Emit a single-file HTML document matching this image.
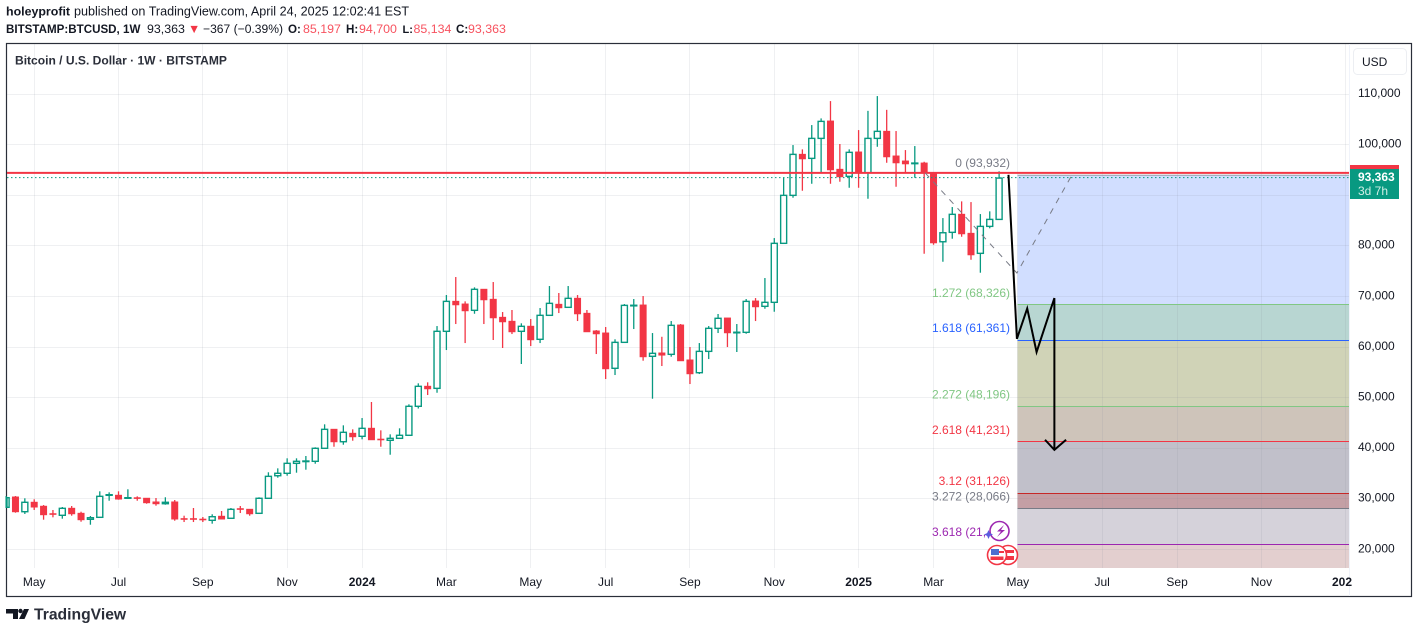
<!DOCTYPE html>
<html lang="en">
<head>
<meta charset="utf-8">
<title>BTCUSD 1W chart</title>
<style>
html,body{margin:0;padding:0;background:#fff;width:1418px;height:633px;overflow:hidden}
body{font-family:"Liberation Sans",sans-serif;position:relative}
svg{position:absolute;left:0;top:0;display:block}
svg text{font-family:"Liberation Sans",sans-serif}
</style>
</head>
<body>
<svg id="chart" width="1418" height="633" viewBox="0 0 1418 633">
  <text x="6" y="15.5" font-size="12.4" fill="#131722"><tspan font-weight="bold">holeyprofit</tspan><tspan x="74" font-size="12.6">published on TradingView.com, April 24, 2025 12:02:41 EST</tspan></text>
  <text x="6" y="33" font-size="12.4" fill="#131722"><tspan font-weight="bold" font-size="11.6">BITSTAMP:BTCUSD, 1W</tspan><tspan x="147">93,363</tspan><tspan x="188" fill="#f23645">▼</tspan><tspan x="203" font-size="12.1">−367 (−0.39%)</tspan><tspan x="288" font-weight="bold" font-size="11.6">O:</tspan><tspan x="303" fill="#f7525f">85,197</tspan><tspan x="346" font-weight="bold" font-size="11.6">H:</tspan><tspan x="359" fill="#f7525f">94,700</tspan><tspan x="402.5" font-weight="bold" font-size="11">L:</tspan><tspan x="413.5" fill="#f7525f">85,134</tspan><tspan x="456" font-weight="bold" font-size="11.6">C:</tspan><tspan x="468" fill="#f7525f">93,363</tspan></text>
  <rect x="6.5" y="43.5" width="1405" height="553" fill="#fff" stroke="#2a2e39" stroke-width="1.2"/>
  <g id="zones"></g>
  <g id="grid"></g>
  <line x1="1349.5" y1="44" x2="1349.5" y2="596" stroke="#f0f3fa"/>
  <g id="candles"></g>
  <g id="overlays"></g>
  <g id="ticks"></g>
  <text x="15" y="64.5" font-size="12.05" font-weight="bold" fill="#2a2e39">Bitcoin / U.S. Dollar · 1W · BITSTAMP</text>
  <rect x="1353.5" y="48.5" width="53" height="26" rx="4" fill="#fff" stroke="#eceef2"/>
  <text x="1362" y="66" font-size="12" fill="#131722">USD</text>

  <g>
    <circle cx="999.5" cy="531" r="9.5" fill="#fff" stroke="#9c27b0" stroke-width="1.6"/>
    <path d="M1004 525l-7 6.5h4l-4 5.5 8-7h-4z" fill="#9c27b0"/>
    <path d="M988.5 530l1.4 3.1 3.1 1.4-3.1 1.4-1.4 3.1-1.4-3.1-3.1-1.4 3.1-1.4z" fill="#5c5ce0"/>
    <g>
      <circle cx="1008" cy="555" r="9.5" fill="#fff" stroke="#f23645" stroke-width="1.6"/>
      <rect x="1003" y="550" width="11" height="3" fill="#f23645"/><rect x="1002" y="556" width="12" height="4" fill="#f23645"/>
    </g>
    <g>
      <circle cx="997" cy="555" r="9.5" fill="#fff" stroke="#f23645" stroke-width="1.6"/>
      <rect x="991" y="549" width="8" height="6" fill="#4a6fd0"/>
      <rect x="999" y="551" width="5" height="2" fill="#f23645"/><rect x="990.5" y="556.5" width="13" height="3.5" fill="#f23645"/>
    </g>
  </g>
  <rect x="1350" y="165" width="49" height="6" fill="#f23645"/>
  <rect x="1350" y="169" width="49" height="30" fill="#089981"/>
  <text x="1358" y="181" font-size="12" font-weight="bold" fill="#fff">93,363</text>
  <text x="1358" y="195" font-size="12" fill="#d0efe6">3d 7h</text>

  <g>
    <path d="M6 609h12v10h-5v-5.5H6z" fill="#131722"/>
    <circle cx="20.5" cy="611" r="2.2" fill="#131722"/>
    <path d="M24 609h5l-4.5 10h-5.5z" fill="#131722"/>
  </g>
  <text x="34" y="619.5" font-size="15.7" font-weight="bold" fill="#2a2e39">TradingView</text>
</svg>
<script>
// Weekly BTC/USD prices in thousands of USD
const opens=[28.30,30.33,27.43,29.29,28.50,27.03,26.72,28.10,27.11,25.93,26.32,30.67,30.67,30.14,30.18,30.08,29.35,29.01,29.35,26.05,26.05,25.95,25.73,26.52,26.13,28.02,27.90,27.11,30.08,34.54,35.02,36.99,37.39,37.39,39.96,43.71,41.26,42.92,42.33,43.91,41.76,41.54,41.93,42.53,48.26,52.21,51.81,63.08,69.00,68.47,67.23,71.38,69.40,65.84,65.05,63.08,64.07,61.50,66.24,68.41,67.82,69.60,66.63,63.14,62.74,55.77,60.90,68.17,68.27,58.14,58.79,58.53,64.32,57.41,54.90,59.12,63.67,65.70,62.84,62.88,69.06,68.02,68.81,80.47,89.95,98.05,97.26,101.21,104.63,95.09,93.71,98.51,94.42,101.21,102.60,97.72,96.73,96.27,96.33,94.36,80.78,82.64,86.20,82.44,78.49,83.82,85.197];
const highs=[30.53,30.53,30.08,29.88,28.75,27.77,28.36,28.56,27.43,26.58,31.46,31.26,31.46,31.86,30.47,30.14,30.14,30.28,29.74,26.64,28.16,26.38,26.92,27.57,28.16,28.56,27.96,30.28,35.22,36.00,37.98,37.98,38.44,40.16,44.70,43.77,44.50,43.71,45.94,49.11,43.51,42.72,43.91,48.65,52.80,53.00,64.12,70.25,73.81,69.00,71.77,71.44,72.82,66.89,67.29,64.66,65.51,67.68,72.03,70.65,72.03,70.25,67.29,63.33,63.93,61.50,68.47,69.46,70.05,62.74,62.00,65.11,64.52,59.97,60.76,64.12,66.50,65.72,64.52,69.46,69.65,73.61,81.51,93.51,99.89,99.04,103.84,105.16,108.58,100.10,99.04,102.85,106.65,109.57,106.85,102.66,98.90,99.69,96.59,94.40,85.46,87.64,88.76,88.62,86.25,86.79,94.70];
const lows=[28.16,27.23,26.98,27.77,25.85,26.32,26.05,26.64,25.45,24.86,26.30,29.60,29.80,29.94,29.60,29.01,28.62,28.81,25.65,25.39,25.39,25.39,25.06,25.95,26.10,27.17,26.64,27.10,30.06,34.15,34.54,35.14,35.73,36.91,39.95,40.27,40.67,41.46,41.74,41.64,40.27,38.69,41.92,42.52,47.82,50.49,50.94,59.38,64.52,60.76,66.55,64.52,61.36,59.78,62.54,56.62,60.17,60.76,66.22,66.69,67.80,65.11,62.98,58.59,53.65,54.44,60.88,63.53,57.27,49.76,56.22,58.06,57.25,52.66,54.64,57.60,62.74,59.97,58.99,62.60,65.11,67.54,66.95,80.45,89.48,90.86,92.24,94.42,92.24,92.64,91.45,91.45,89.28,99.55,96.39,91.65,94.42,93.43,78.41,80.19,76.83,81.38,81.77,77.22,74.66,83.43,85.134];
const closes=[30.20,27.43,29.29,28.36,26.84,26.92,28.10,27.03,25.85,26.24,30.47,30.79,29.94,30.20,30.10,29.21,29.01,29.29,25.99,25.99,25.99,25.89,26.44,25.99,27.90,27.96,27.03,30.08,34.42,35.02,36.99,37.39,37.45,39.96,43.71,41.26,43.12,42.25,43.91,41.66,41.70,41.93,42.53,48.26,52.21,51.73,63.08,69.00,68.33,67.15,71.38,69.32,65.76,64.97,63.00,64.07,61.42,66.24,68.61,67.74,69.60,66.55,63.00,62.60,55.69,60.90,68.21,68.23,58.06,58.73,58.39,64.26,57.27,54.70,59.12,63.67,65.65,62.80,62.90,69.00,67.94,68.81,80.47,89.95,98.05,97.18,101.21,104.57,95.01,93.63,98.45,94.42,101.21,102.60,97.58,96.39,96.19,96.33,94.42,80.58,82.56,86.20,82.36,78.21,83.82,85.20,93.363];

const priceTicks=[20,30,40,50,60,70,80,90,100,110];
const priceTickLabels=['20,000','30,000','40,000','50,000','60,000','70,000','80,000','','100,000','110,000'];
const timeTickBars=[3,12,21,30,38,47,56,64,73,82,91,99,108,117,125,134,143];
const timeTickLabels=['May','Jul','Sep','Nov','2024','Mar','May','Jul','Sep','Nov','2025','Mar','May','Jul','Sep','Nov','202'];
const fibPrices=[93.932,68.326,61.361,48.196,41.231,31.126,28.066,21.0];
const fibLabels=['0 (93,932)','1.272 (68,326)','1.618 (61,361)','2.272 (48,196)','2.618 (41,231)','3.12 (31,126)','3.272 (28,066)','3.618 (21,'];
const fibColors=['#787b86','#81c784','#2962ff','#81c784','#f23645','#c62828','#787b86','#9c27b0'];
const zoneColors=['#d1deff','#b8d6d2','#d0d3b7','#cec4ba','#c1c0ca','#c49fa5','#d5d2da','#e3cfcf'];
const resistancePrice=94.4;
const lastPrice=93.363;
const zigzagBars=[107,107.9,109,110,111.9,111.9];
const zigzagPrices=[94.0,61.6,67.6,58.99,69.65,39.65];
const arrowBars=[110.9,111.9,113.15];
const arrowPrices=[41.65,39.65,41.65];
const dashedBars=[98.1,107.9,113.9];
const dashedPrices=[94.4,74.6,94.4];

const NS='http://www.w3.org/2000/svg';
const BAR0=6.1, BAR_STEP=9.368, Y20=549.3, PX_PER_K=5.06;
const PLOT_L=7, PLOT_R=1349, PLOT_T=44, PLOT_B=568;
function xScale(i){return BAR0+i*BAR_STEP;}
function yScale(k){return Y20-(k-20)*PX_PER_K;}
function crisp(v){return Math.floor(v)+0.5;}
function mk(tag,parent,attrs){
  const el=document.createElementNS(NS,tag);
  for(const k in attrs){el.setAttribute(k,attrs[k]);}
  parent.appendChild(el);
  return el;
}
const gZones=document.getElementById('zones');
const gGrid=document.getElementById('grid');
const gCandles=document.getElementById('candles');
const gOver=document.getElementById('overlays');
const gTicks=document.getElementById('ticks');

// fib zones and level lines
fibPrices.forEach(function(p,i){
  const top=crisp(yScale(p))+(i===0?0.5:0);
  const bottom=i<fibPrices.length-1?crisp(yScale(fibPrices[i+1])):PLOT_B;
  const zone=mk('rect',gZones,{x:1017.5,y:top,width:PLOT_R-1017.5,height:bottom-top,fill:zoneColors[i]});
  
  
});

// grid
priceTicks.forEach(function(p){
  const gy=crisp(yScale(p)+0.2);
  const line=mk('line',gGrid,{x1:PLOT_L,x2:PLOT_R,y1:gy,y2:gy,stroke:'#808a9a','stroke-opacity':0.13});
  
  
});
timeTickBars.forEach(function(b){
  const gx=crisp(xScale(b));
  const line=mk('line',gGrid,{x1:gx,x2:gx,y1:PLOT_T,y2:PLOT_B,stroke:'#808a9a','stroke-opacity':0.13});
  
  
});

// candles
closes.forEach(function(c,i){
  const o=opens[i],h=highs[i],l=lows[i];
  const up=c>=o;
  const col=up?'#089981':'#f23645';
  const cx=xScale(i);
  const g=mk('g',gCandles,{});
  
  
  mk('line',g,{x1:cx,x2:cx,y1:yScale(h),y2:yScale(l),stroke:col,'stroke-width':1.3});
  const top=yScale(Math.max(o,c)),bot=yScale(Math.min(o,c));
  const bh=Math.max(bot-top,0.6);
  if(i===0){
    mk('rect',g,{x:PLOT_L,y:top,width:cx+3-PLOT_L,height:bh,fill:'#fff',stroke:col,'stroke-width':1.4});
  }else if(up){
    mk('rect',g,{x:cx-3,y:top,width:6,height:bh,fill:'#fff',stroke:col,'stroke-width':1.4});
  }else{
    mk('rect',g,{x:cx-3.5,y:top-0.5,width:7,height:bh+1,fill:col});
  }
});

// fib lines over candles
fibPrices.forEach(function(p,i){
  if(i===0){return;}
  const ly=crisp(yScale(p));
  const line=mk('line',gOver,{x1:1017.5,x2:PLOT_R,y1:ly,y2:ly,stroke:fibColors[i],'stroke-width':1});
  
  
});
const fib0=mk('line',gOver,{x1:1017.5,x2:PLOT_R,y1:yScale(fibPrices[0]),y2:yScale(fibPrices[0]),stroke:'#8a92a6','stroke-width':1});



// last price dotted
const dotted=mk('line',gOver,{x1:PLOT_L,x2:PLOT_R,y1:yScale(lastPrice)-0.5,y2:yScale(lastPrice)-0.5,stroke:'#089981','stroke-width':1,'stroke-dasharray':'1.5 2.5'});



// resistance
const res=mk('line',gOver,{x1:PLOT_L,x2:PLOT_R,y1:yScale(resistancePrice),y2:yScale(resistancePrice),stroke:'#f23645','stroke-width':2});



function pts(bars,prices){return bars.map(function(b,i){return xScale(b)+','+yScale(prices[i]);}).join(' ');}
const dashed=mk('polyline',gOver,{points:pts(dashedBars,dashedPrices),fill:'none',stroke:'#787b86','stroke-width':1,'stroke-dasharray':'6 6'});


const zig=mk('polyline',gOver,{points:pts(zigzagBars,zigzagPrices),fill:'none',stroke:'#000','stroke-width':2,'stroke-linejoin':'miter'});


const head=mk('polyline',gOver,{points:pts(arrowBars,arrowPrices),fill:'none',stroke:'#000','stroke-width':2});



// fib labels
fibLabels.forEach(function(t,i){
  const isClipped=i===fibLabels.length-1;
  const tx=mk('text',gTicks,{x:isClipped?932:1010,y:yScale(fibPrices[i])-8,'font-size':12,fill:fibColors[i]==='#c62828'?'#f23645':fibColors[i],'text-anchor':isClipped?'start':'end'});
  tx.textContent=t;
  
  
});

// axis labels
priceTicks.forEach(function(p,i){
  if(!priceTickLabels[i]){return;}
  const tx=mk('text',gTicks,{x:1358,y:yScale(p)+3,'font-size':12,fill:'#131722','text-anchor':'start'});
  tx.textContent=priceTickLabels[i];
  
  
});
timeTickBars.forEach(function(b,i){
  const t=timeTickLabels[i];
  const bold=/^20/.test(t);
  const last=i===timeTickLabels.length-1;
  const tx=mk('text',gTicks,{x:last?1332:xScale(b),y:586,'font-size':12,fill:'#131722','text-anchor':last?'start':'middle','font-weight':bold?'bold':'normal'});
  tx.textContent=t;
  
  
});
</script>
</body>
</html>
